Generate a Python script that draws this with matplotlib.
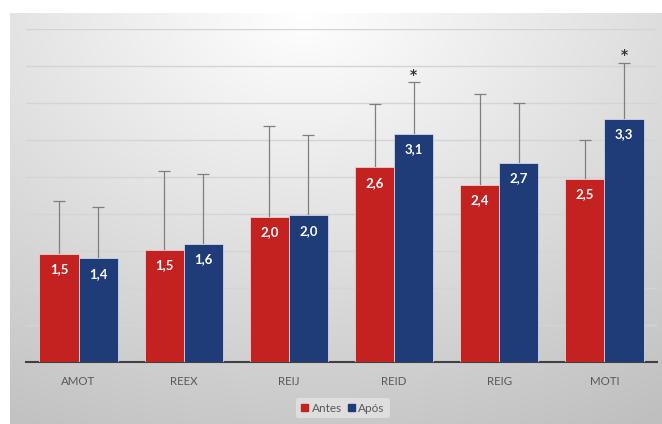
import numpy as np
import matplotlib
matplotlib.use("Agg")
import matplotlib.pyplot as plt
from matplotlib.patches import Patch

# data
categories = ["AMOT", "REEX", "REIJ", "REID", "REIG", "MOTI"]
antes = [1.46, 1.51, 1.96, 2.63, 2.39, 2.47]
apos = [1.40, 1.60, 1.98, 3.08, 2.69, 3.29]
antes_err = [0.72, 1.07, 1.23, 0.86, 1.23, 0.53]
apos_err = [0.69, 0.94, 1.09, 0.70, 0.81, 0.75]
apos_signif = [False, False, False, True, False, True]

red = "#C42121"
blue = "#1F3B78"

plt.rcParams["font.family"] = ["Lato", "DejaVu Sans"]

fig = plt.figure(figsize=(6.62, 4.24), dpi=100)

# gray radial gradient behind the chart
bg = fig.add_axes([10 / 662, 0, 1 - 10 / 662, 1 - 13 / 424])
bg.axis("off")
h, w = 200, 320
yy, xx = np.mgrid[0:h, 0:w]
r = np.sqrt(((xx / w - 0.45) * 1.3) ** 2 + (yy / h) ** 2)
shade = 1.0 - 0.22 * np.clip(r, 0, 1.2) / 1.2 - 0.03 * (yy / h)
bg.imshow(np.dstack([shade] * 3), aspect="auto", extent=[0, 1, 0, 1],
          interpolation="bilinear")
bg.set_xlim(0, 1)
bg.set_ylim(0, 1)

ax = fig.add_axes([26 / 662, 1 - 362 / 424, 631 / 662, 333 / 424])
ax.patch.set_alpha(0)

x = np.arange(len(categories))
bw = 0.372
ax.bar(x - bw / 2, antes, bw, color=red, edgecolor="#e8d0d0", linewidth=0.6,
       zorder=3, label="Antes")
ax.bar(x + bw / 2, apos, bw, color=blue, edgecolor="#d0d8e8", linewidth=0.6,
       zorder=3, label="Após")

# upper-only error bars (no cap at the bar top)
for xs, vals, errs in [(x - bw / 2, antes, antes_err), (x + bw / 2, apos, apos_err)]:
    eb = ax.errorbar(xs, vals, yerr=[np.zeros(len(vals)), errs], fmt="none",
                     ecolor="#7f7f7f", elinewidth=0.9, capsize=4, capthick=0.9,
                     zorder=2)
    eb[1][0].set_visible(False)

for xi, v in zip(x - bw / 2, antes):
    ax.annotate(f"{v:.1f}".replace(".", ","), (xi, v), xytext=(0, -11),
                textcoords="offset points", ha="center", va="center",
                color="white", fontsize=9.5, fontweight="bold", zorder=4)
for xi, v in zip(x + bw / 2, apos):
    ax.annotate(f"{v:.1f}".replace(".", ","), (xi, v), xytext=(0, -11),
                textcoords="offset points", ha="center", va="center",
                color="white", fontsize=9.5, fontweight="bold", zorder=4)

for xi, v, e, s in zip(x + bw / 2, apos, apos_err, apos_signif):
    if s:
        ax.annotate("*", (xi, v + e), xytext=(0, 5.5), textcoords="offset points",
                    ha="center", va="center", fontsize=10, color="#333333",
                    family="DejaVu Sans", fontweight="bold")

ax.set_xlim(-0.5, len(categories) - 0.5)
ax.set_ylim(0, 4.5)
ax.set_yticks(np.arange(0.5, 4.51, 0.5))
ax.yaxis.grid(True, color="#d4d4d4", linewidth=1, zorder=0)
ax.set_axisbelow(True)
ax.tick_params(axis="y", left=False, labelleft=False)
ax.tick_params(axis="x", length=0, pad=10, labelsize=8.3, labelcolor="#595959")
ax.set_xticks(x)
ax.set_xticklabels(categories)
for s in ["top", "right", "left"]:
    ax.spines[s].set_visible(False)
ax.spines["bottom"].set_color("#404040")
ax.spines["bottom"].set_linewidth(1.5)

handles = [Patch(color=red, label="Antes"), Patch(color=blue, label="Após")]
leg = fig.legend(handles=handles, loc="center", bbox_to_anchor=(343 / 662, 1 - 408 / 424),
                 ncol=2, frameon=True, fontsize=8.5, handlelength=0.6, handleheight=0.6,
                 handletextpad=0.3, columnspacing=0.5, borderpad=0.4)
leg.get_frame().set_facecolor("#e4e4e4")
leg.get_frame().set_edgecolor("none")
leg.get_frame().set_alpha(0.8)
for t in leg.get_texts():
    t.set_color("#595959")

fig.savefig("out.png", dpi=100)
